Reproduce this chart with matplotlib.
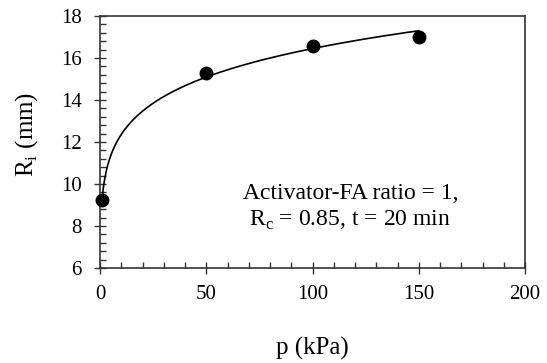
import numpy as np
import matplotlib
matplotlib.use('Agg')
import matplotlib.pyplot as plt
from matplotlib.ticker import MultipleLocator

# measured points
p = np.array([1, 50, 100, 150])
Ri = np.array([9.25, 15.3, 16.57, 17.0])

plt.rcParams['font.family'] = 'Liberation Serif'
plt.rcParams['mathtext.fontset'] = 'custom'
plt.rcParams['mathtext.rm'] = 'Liberation Serif'
plt.rcParams['font.size'] = 15

fig = plt.figure(figsize = (5.47, 3.63), dpi = 100)
ax = fig.add_axes([100 / 547, 1 - 268 / 363, 425 / 547, 252 / 363])

# power-law trendline fitted on the points
b, lna = np.polyfit(np.log(p), np.log(Ri), 1)
xs = np.linspace(p.min(), p.max(), 400)
ax.plot(xs, np.exp(lna) * xs ** b, color = 'black', lw = 1.2, zorder = 2)
ax.plot(p, Ri, 'o', color = 'black', ms = 9, zorder = 3, clip_on = False)

ax.set_xlim(0, 200)
ax.set_ylim(6, 18)
ax.xaxis.set_major_locator(MultipleLocator(50))
ax.xaxis.set_minor_locator(MultipleLocator(10))
ax.yaxis.set_major_locator(MultipleLocator(2))
ax.yaxis.set_minor_locator(MultipleLocator(0.4))
ax.tick_params(which = 'major', direction = 'inout', length = 8, width = 1, color = '#333333')
ax.tick_params(which = 'minor', direction = 'in', length = 4, width = 1, color = '#333333')
ax.tick_params(axis = 'x', which = 'major', pad = 8)
ax.tick_params(axis = 'y', which = 'major', pad = 9)
for s in ax.spines.values():
	s.set_linewidth(1.2)
	s.set_color('#333333')

ax.set_xlabel('p (kPa)', fontsize = 18)
ax.set_ylabel(r'R$_\mathregular{i}$ (mm)', fontsize = 18)
ax.xaxis.set_label_coords(0.5, -0.274)
ax.yaxis.set_label_coords(-0.14, 0.53)
ax.text(351 / 547, 1 - 193 / 363, 'Activator-FA ratio = 1,', transform = fig.transFigure, ha = 'center', va = 'center', fontsize = 17)
ax.text(350 / 547, 1 - 220 / 363, r'R$_\mathregular{c}$ = 0.85, t = 20 min', transform = fig.transFigure, ha = 'center', va = 'center', fontsize = 17)

fig.savefig('out.png', dpi = 100)
